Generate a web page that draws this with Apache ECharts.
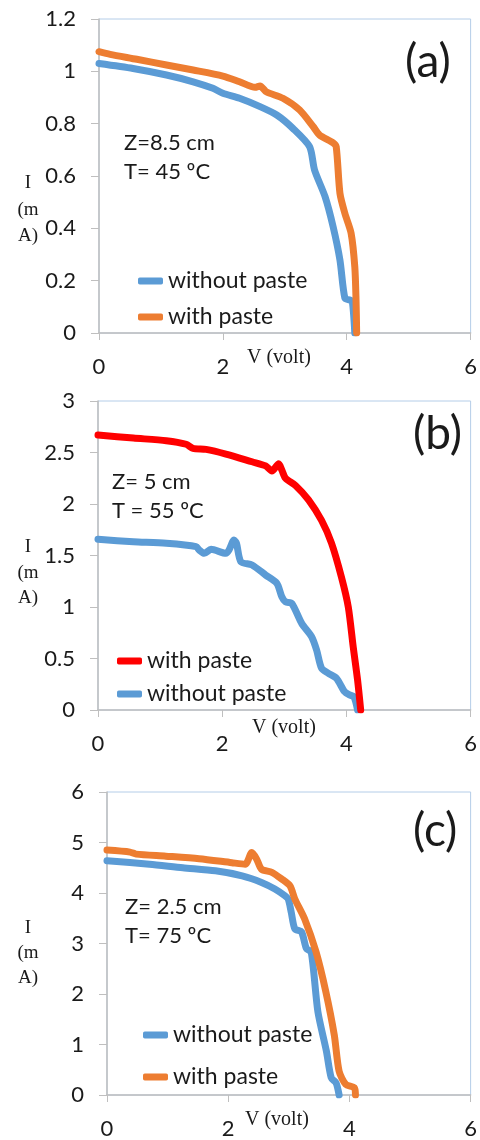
<!DOCTYPE html>
<html lang="en">
<head>
<meta charset="UTF-8">
<title>I-V curves</title>
<script src="https://cdn.jsdelivr.net/npm/echarts@6/dist/echarts.min.js"></script>
<style>
html, body { margin: 0; padding: 0; background: #fff; }
#chart { width: 480px; height: 1140px; }
</style>
</head>
<body>
<div id="chart"></div>
<script>
// panel (a) Z=8.5 cm, T=45 C
const aVoltWith = [0, 0.18, 0.61, 1.09, 1.52, 2.0, 2.27, 2.52, 2.6, 2.70, 2.97, 3.24, 3.46, 3.56, 3.78, 3.83, 3.89, 3.97, 4.07, 4.13, 4.15, 4.16];
const aCurrWith = [1.075, 1.065, 1.046, 1.024, 1.005, 0.982, 0.960, 0.939, 0.944, 0.922, 0.897, 0.852, 0.788, 0.757, 0.727, 0.712, 0.534, 0.457, 0.382, 0.253, 0.126, 0];
const aVoltWithout = [0, 0.55, 1.09, 1.52, 1.84, 2.0, 2.27, 2.60, 2.87, 3.13, 3.40, 3.48, 3.65, 3.78, 3.89, 3.97, 4.05, 4.09, 4.13];
const aCurrWithout = [1.030, 1.011, 0.986, 0.960, 0.935, 0.916, 0.897, 0.865, 0.833, 0.782, 0.712, 0.623, 0.521, 0.406, 0.279, 0.133, 0.126, 0.12, 0];

// panel (b) Z=5 cm, T=55 C
const bVoltWith = [0, 0.57, 1.10, 1.42, 1.53, 1.74, 2.06, 2.48, 2.70, 2.80, 2.91, 2.96, 3.02, 3.18, 3.39, 3.60, 3.76, 3.92, 4.03, 4.11, 4.18, 4.23];
const bCurrWith = [2.67, 2.64, 2.615, 2.58, 2.54, 2.53, 2.485, 2.41, 2.37, 2.32, 2.39, 2.33, 2.25, 2.18, 2.04, 1.84, 1.62, 1.29, 1.00, 0.61, 0.29, 0];
const bVoltWithout = [0, 0.57, 1.10, 1.58, 1.63, 1.71, 1.82, 2.06, 2.11, 2.19, 2.23, 2.30, 2.48, 2.70, 2.88, 2.96, 3.02, 3.12, 3.28, 3.44, 3.52, 3.60, 3.71, 3.84, 3.97, 4.05, 4.12, 4.18];
const bCurrWithout = [1.657, 1.634, 1.618, 1.586, 1.553, 1.521, 1.56, 1.521, 1.553, 1.65, 1.618, 1.44, 1.408, 1.31, 1.23, 1.10, 1.05, 1.036, 0.841, 0.712, 0.583, 0.405, 0.356, 0.307, 0.178, 0.146, 0.13, 0];

// panel (c) Z=2.5 cm, T=75 C
const cVoltWith = [0, 0.38, 0.48, 0.97, 1.52, 2.06, 2.28, 2.39, 2.47, 2.55, 2.72, 2.88, 3.02, 3.10, 3.26, 3.45, 3.61, 3.75, 3.83, 3.94, 4.08, 4.10];
const cCurrWith = [4.85, 4.81, 4.77, 4.73, 4.68, 4.60, 4.57, 4.80, 4.67, 4.47, 4.41, 4.28, 4.14, 3.88, 3.49, 2.83, 2.05, 1.19, 0.47, 0.21, 0.144, 0];
const cVoltWithout = [0, 0.70, 1.25, 1.79, 2.23, 2.55, 2.77, 2.93, 2.99, 3.04, 3.10, 3.21, 3.29, 3.37, 3.48, 3.62, 3.70, 3.78, 3.83];
const cCurrWithout = [4.64, 4.57, 4.50, 4.44, 4.34, 4.21, 4.08, 3.95, 3.88, 3.62, 3.29, 3.23, 2.90, 2.83, 1.65, 0.87, 0.34, 0.24, 0];

const yMax = [1.2, 3, 6];
const yStep = [0.2, 0.5, 1];

const BLUE = '#5b9bd5';
const ORANGE = '#ed7d31';
const RED = '#ff0000';
const AXIS = '#bfbfbf';

const zip = (xs, ys) => xs.map((x, i) => [x, ys[i]]);

const grids = [
  { left: 99, top: 19, width: 372, height: 314 },
  { left: 98, top: 401, width: 376, height: 309 },
  { left: 107, top: 792, width: 367, height: 305 }
];

const tickFont = { fontFamily: 'Lato', fontSize: 22, color: '#1a1a1a' };

function line(name, idx, data, color) {
  return {
    name: name,
    type: 'line',
    xAxisIndex: idx,
    yAxisIndex: idx,
    data: data,
    symbol: 'none',
    smooth: 0.25,
    lineStyle: { color: color, width: 7, cap: 'round', join: 'round' },
    itemStyle: { color: color },
    animation: false
  };
}

function legend(left, top, gap, names) {
  return {
    orient: 'vertical',
    left: left,
    top: top,
    itemGap: gap,
    itemWidth: 25,
    itemHeight: 7,
    icon: 'roundRect',
    data: names,
    formatter: n => n.slice(2),
    textStyle: { fontFamily: 'Lato', fontSize: 23, color: '#1a1a1a', lineHeight: 24 },
    selectedMode: false
  };
}

function txt(text, x, y, font, align) {
  return {
    type: 'text',
    x: x,
    y: y,
    style: { text: text, font: font, fill: '#1a1a1a', align: align || 'left', verticalAlign: 'middle' }
  };
}

const chart = echarts.init(document.getElementById('chart'));
chart.setOption({
  animation: false,
  grid: grids.map(g => Object.assign({ show: true, borderColor: '#b4cde8', borderWidth: 1 }, g)),
  xAxis: grids.map((g, i) => ({
    type: 'value',
    gridIndex: i,
    min: 0,
    max: 6,
    interval: 2,
    axisLine: { show: true, lineStyle: { color: AXIS, width: 1.5 } },
    axisTick: { show: true, length: 7, lineStyle: { color: AXIS } },
    axisLabel: Object.assign({ margin: 23 }, tickFont),
    splitLine: { show: false }
  })),
  yAxis: grids.map((g, i) => ({
    type: 'value',
    gridIndex: i,
    min: 0,
    max: yMax[i],
    interval: yStep[i],
    axisLine: { show: true, lineStyle: { color: AXIS, width: 1.5 } },
    axisTick: { show: true, length: 8, lineStyle: { color: AXIS } },
    axisLabel: Object.assign({ margin: 23 }, tickFont),
    splitLine: { show: false }
  })),
  legend: [
    legend(133, 264, 12, ['a:without paste', 'a:with paste']),
    legend(112, 644, 9, ['b:with paste', 'b:without paste']),
    legend(138, 1018, 18, ['c:without paste', 'c:with paste'])
  ],
  series: [
    line('a:without paste', 0, zip(aVoltWithout, aCurrWithout), BLUE),
    line('a:with paste', 0, zip(aVoltWith, aCurrWith), ORANGE),
    line('b:without paste', 1, zip(bVoltWithout, bCurrWithout), BLUE),
    line('b:with paste', 1, zip(bVoltWith, bCurrWith), RED),
    line('c:without paste', 2, zip(cVoltWithout, cCurrWithout), BLUE),
    line('c:with paste', 2, zip(cVoltWith, cCurrWith), ORANGE)
  ],
  graphic: [
    txt('(a)', 405, 62, '46px Lato'),
    txt('(b)', 413, 434, '46px Lato'),
    txt('(c)', 413, 831, '46px Lato'),
    txt('Z=8.5 cm', 124, 143, '22px Lato'),
    txt('T= 45 ºC', 124, 172, '22px Lato'),
    txt('Z= 5 cm', 112, 482, '22px Lato'),
    txt('T = 55 ºC', 112, 511, '22px Lato'),
    txt('Z= 2.5 cm', 125, 907, '22px Lato'),
    txt('T= 75 ºC', 125, 936, '22px Lato'),
    txt('I', 28, 183, '19px "Liberation Serif"', 'center'),
    txt('(m', 28, 210, '19px "Liberation Serif"', 'center'),
    txt('A)', 28, 236, '19px "Liberation Serif"', 'center'),
    txt('I', 28, 547, '19px "Liberation Serif"', 'center'),
    txt('(m', 28, 573, '19px "Liberation Serif"', 'center'),
    txt('A)', 28, 598, '19px "Liberation Serif"', 'center'),
    txt('I', 28, 928, '19px "Liberation Serif"', 'center'),
    txt('(m', 28, 953, '19px "Liberation Serif"', 'center'),
    txt('A)', 28, 978, '19px "Liberation Serif"', 'center'),
    txt('V (volt)', 247, 358, '20px "Liberation Serif"'),
    txt('V (volt)', 252, 728, '20px "Liberation Serif"'),
    txt('V (volt)', 245, 1120, '20px "Liberation Serif"')
  ]
});
</script>
</body>
</html>
